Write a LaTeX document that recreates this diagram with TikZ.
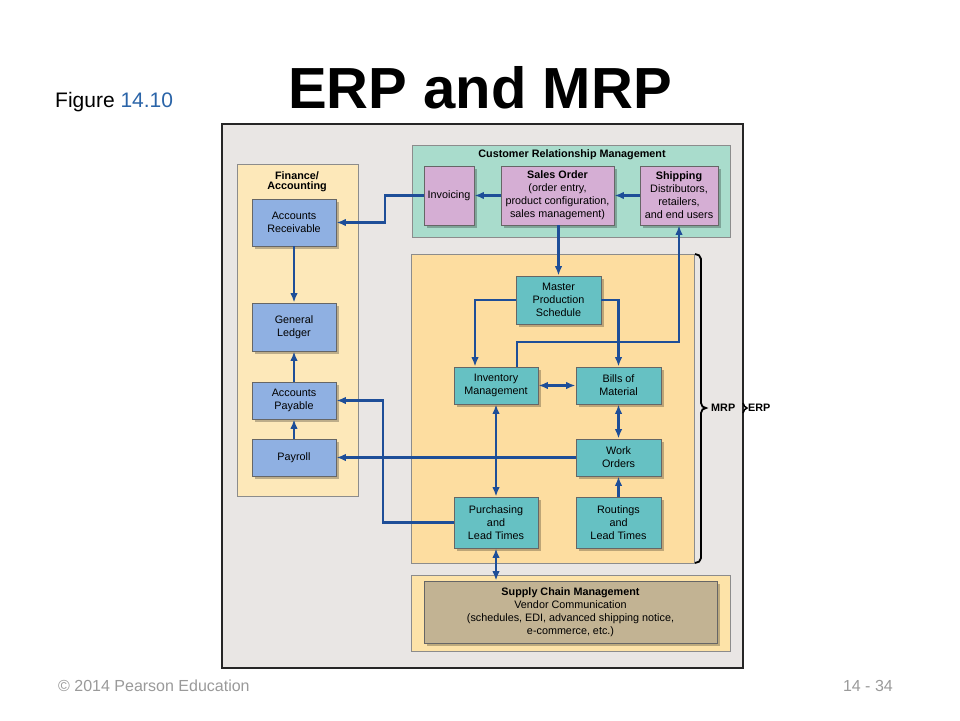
\documentclass[tikz,border=0pt]{standalone}
\usepackage{fontspec}
\setmainfont{Liberation Sans}
\usetikzlibrary{arrows.meta,shadows}
\definecolor{outerfill}{HTML}{E9E6E4}
\definecolor{finfill}{HTML}{FDE8B9}
\definecolor{crmfill}{HTML}{A9DCCC}
\definecolor{mrpfill}{HTML}{FDDDA0}
\definecolor{bluebox}{HTML}{8FB0E2}
\definecolor{pinkbox}{HTML}{D5AED4}
\definecolor{tealbox}{HTML}{66C1C3}
\definecolor{tanbox}{HTML}{C2B393}
\definecolor{scmfill}{HTML}{FDE3A8}
\definecolor{arrowblue}{HTML}{1E4E98}
\definecolor{figblue}{HTML}{2A64A8}
\definecolor{footgray}{HTML}{9A9A9A}
\tikzset{
  panel/.style={draw=black!45, line width=0.8pt, inner sep=0pt},
  box/.style={draw=black!60, line width=0.8pt, align=center, inner sep=1pt,
    font=\fontsize{10.8}{13}\selectfont,
    drop shadow={shadow xshift=2.5pt, shadow yshift=-2.5pt, fill=black, opacity=0.25}},
  arr/.style={draw=arrowblue, line width=2.2pt, -{Latex[length=9.5pt,width=7.5pt]}},
  darr/.style={draw=arrowblue, line width=2.2pt, {Latex[length=9.5pt,width=7.5pt]}-{Latex[length=9.5pt,width=7.5pt]}},
  bracestyle/.style={draw=black, line width=1.8pt},
  lbl/.style={font=\bfseries\fontsize{10.8}{12}\selectfont, inner sep=0pt}
}
\begin{document}
\begin{tikzpicture}[x=1pt,y=-1pt]
\useasboundingbox (0,0) rectangle (960,720);
\fill[white] (0,0) rectangle (960,720);

% title
\node[font=\bfseries\fontsize{58}{60}\selectfont, anchor=base, inner sep=0pt] (title) at (480,108) {ERP and MRP};
\node[font=\fontsize{21}{24}\selectfont, anchor=base west, inner sep=0pt] (fig) at (55,107) {Figure \textcolor{figblue}{14.10}};

% outer box
\node[draw=black!85, line width=2pt, fill=outerfill, minimum width=521pt, minimum height=544pt, inner sep=0pt] (outer) at (482.5,396) {};

% panels
\node[panel, fill=finfill, minimum width=121pt, minimum height=332pt] (fin) at (297.5,330) {};
\node[lbl, align=center, font=\bfseries\fontsize{10.8}{10}\selectfont] (fintitle) at (297,181.5) {Finance/\\Accounting};
\node[panel, fill=crmfill, minimum width=318pt, minimum height=92pt] (crm) at (571,191) {};
\node[lbl] (crmtitle) at (572,155) {Customer Relationship Management};
\node[panel, fill=mrpfill, minimum width=283pt, minimum height=309pt] (mrp) at (552.5,408.5) {};
\node[panel, fill=scmfill, minimum width=319pt, minimum height=76pt] (scm) at (570.5,613) {};

% finance boxes
\node[box, fill=bluebox, minimum width=84pt, minimum height=47pt] (AR) at (294,222.5) {Accounts\\Receivable};
\node[box, fill=bluebox, minimum width=84pt, minimum height=48pt] (GL) at (294,327) {General\\Ledger};
\node[box, fill=bluebox, minimum width=84pt, minimum height=37pt] (AP) at (294,400.5) {Accounts\\Payable};
\node[box, fill=bluebox, minimum width=84pt, minimum height=37pt] (PR) at (294,457.5) {Payroll};

% CRM boxes
\node[box, fill=pinkbox, minimum width=50pt, minimum height=59pt] (INV) at (449,195.5) {Invoicing};
\node[box, fill=pinkbox, minimum width=113pt, minimum height=59pt] (SO) at (557.5,195.5) {\textbf{Sales Order}\\(order entry,\\product configuration,\\sales management)};
\node[box, fill=pinkbox, minimum width=78pt, minimum height=59pt] (SH) at (679,195.5) {\textbf{Shipping}\\Distributors,\\retailers,\\and end users};

% MRP boxes
\node[box, fill=tealbox, minimum width=85pt, minimum height=48pt] (MPS) at (558.5,300) {Master\\Production\\Schedule};
\node[box, fill=tealbox, minimum width=84pt, minimum height=37pt] (IM) at (496,385.5) {Inventory\\Management};
\node[box, fill=tealbox, minimum width=85pt, minimum height=37pt] (BM) at (618.5,385.5) {Bills of\\Material};
\node[box, fill=tealbox, minimum width=85pt, minimum height=37pt] (WO) at (618.5,457.5) {Work\\Orders};
\node[box, fill=tealbox, minimum width=84pt, minimum height=51pt] (PU) at (496,522.5) {Purchasing\\and\\Lead Times};
\node[box, fill=tealbox, minimum width=85pt, minimum height=51pt] (RT) at (618.5,522.5) {Routings\\and\\Lead Times};

% SCM
\node[box, fill=tanbox, minimum width=293pt, minimum height=62pt] (SCMi) at (570.5,612) {\textbf{Supply Chain Management}\\Vendor Communication\\(schedules, EDI, advanced shipping notice,\\e-commerce, etc.)};

% connectors
\coordinate (iv) at (385,0);
\coordinate (pv) at (383,0);
\coordinate (kk) at (679,342);
\draw[arr] (INV.west) -| (iv |- AR.east) -- (AR.east);
\draw[arr] (SO.west) -- (INV.east);
\draw[arr] (SH.west) -- (SO.east);
\draw[arr] (MPS.north |- SO.south) -- (MPS.north);
\draw[arr] (MPS.west) -| ([xshift=-21pt]IM.north);
\draw[arr] (MPS.east) -| (BM.north);
\draw[arr] ([xshift=21pt]IM.north) |- (kk) -- (kk |- SH.south);
\draw[darr] (IM.east) -- (BM.west);
\draw[darr] (BM.south) -- (WO.north);
\draw[arr] (RT.north) -- (WO.south);
\draw[arr] (WO.west) -- (PR.east);
\draw[darr] (IM.south) -- (PU.north);
\draw[arr] (PU.west) -| (pv |- AP.east) -- (AP.east);
\draw[darr] (PU.south) -- (PU.south |- SCMi.north);
\draw[arr] (AR.south) -- (GL.north);
\draw[arr] (AP.north) -- (GL.south);
\draw[arr] (PR.north) -- (AP.south);

% braces
\draw[bracestyle] (695,254) to[out=0,in=90] (701,259) -- (701,403) to[out=-90,in=180] (706,408)
  to[out=180,in=90] (701,413) -- (701,558) to[out=-90,in=0] (695,563);
\node[lbl, anchor=west] (mrplbl) at (711,408) {MRP};
\draw[bracestyle, line width=1.5pt] (743,403) to[out=-60,in=180] (747,408) to[out=180,in=60] (743,413);
\node[lbl, anchor=west] (erplbl) at (748,408) {ERP};

% footer
\node[font=\fontsize{16}{18}\selectfont, text=footgray, anchor=base west, inner sep=0pt] (copy) at (58,691) {\textcopyright\ 2014 Pearson Education};
\node[font=\fontsize{16}{18}\selectfont, text=footgray, anchor=base east, inner sep=0pt] (page) at (893,691) {14 - 34};
\end{tikzpicture}
\end{document}
